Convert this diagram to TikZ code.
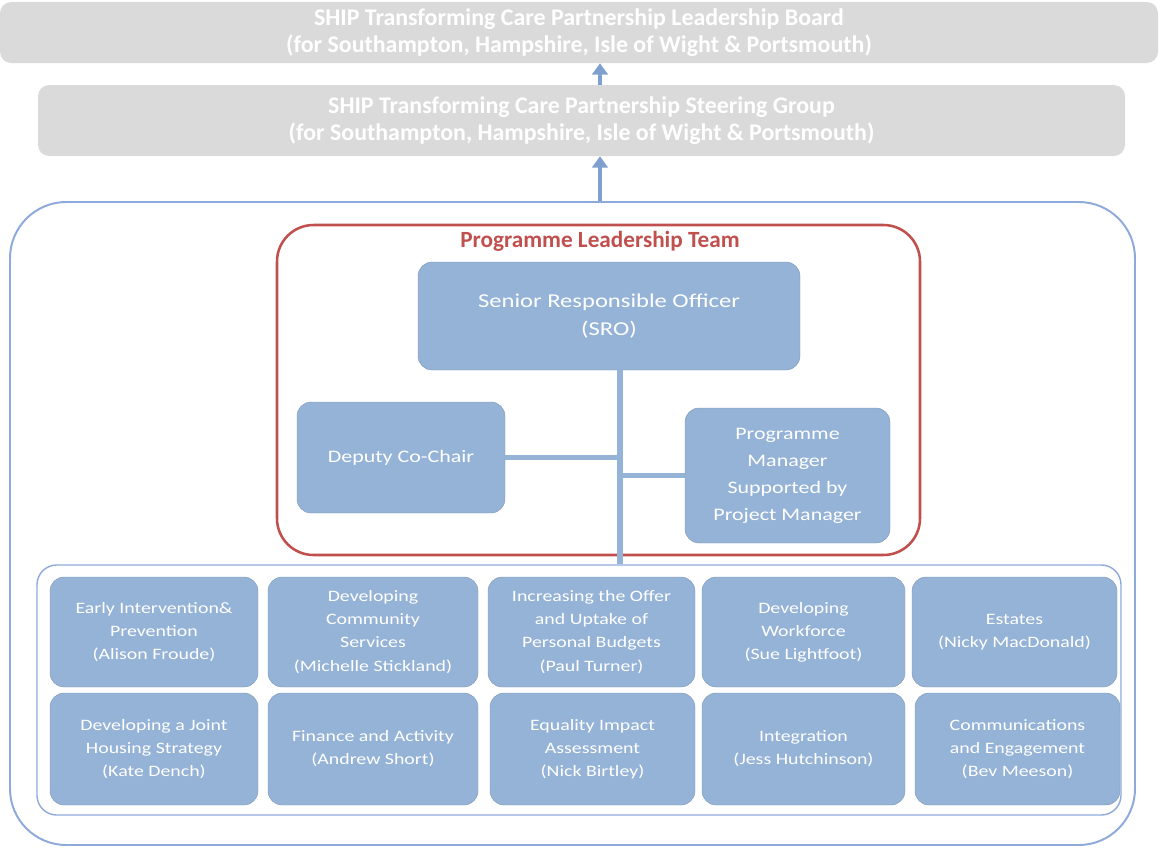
\documentclass[tikz,border=0pt]{standalone}
\usepackage{fontspec}
\setmainfont{Carlito}
\newfontfamily\widefont[FakeStretch=1.25]{Carlito}
\usetikzlibrary{arrows.meta}
\definecolor{boxblue}{HTML}{95B3D7}
\definecolor{edgeblue}{HTML}{8EAADB}
\definecolor{arrowblue}{HTML}{7F9FCF}
\definecolor{boardgray}{HTML}{DADADA}
\definecolor{teamred}{HTML}{C0504D}
% one drawing unit is one pixel of the 1160 x 850 sheet
\def\pxu{0.025cm}
\tikzset{
  size/.style 2 args={minimum width=#1*\pxu, minimum height=#2*\pxu},
  board/.style={fill=boardgray, draw=none, rounded corners=8pt, inner sep=0pt,
    align=center, text=white, font=\fontsize{17}{19.6}\selectfont\bfseries},
  role/.style={fill=boxblue, draw=boxblue!85!black, line width=0.3pt, rounded corners=10pt,
    inner sep=0pt, align=center, text=white, font=\widefont\fontsize{12.5}{19.2}\selectfont},
  team/.style={fill=boxblue, draw=boxblue!85!black, line width=0.3pt, rounded corners=10pt,
    inner sep=0pt, align=center, text=white, font=\widefont\fontsize{11.3}{16.4}\selectfont},
  link/.style={draw=boxblue, line width=3.6pt},
  upArrow/.style={draw=arrowblue, line width=3pt, -{Triangle[width=11pt,length=8pt]}}
}
\begin{document}
\begin{tikzpicture}[x=\pxu,y=-\pxu]
\useasboundingbox (0,0) rectangle (1160,850);
% governance boards
\node[board, size={1158}{61}] (board) at (579,32.5) {SHIP Transforming Care Partnership Leadership Board\\(for Southampton, Hampshire, Isle of Wight \& Portsmouth)};
\node[board, size={1087}{71}] (steer) at (581.5,120.5) {SHIP Transforming Care Partnership Steering Group\\(for Southampton, Hampshire, Isle of Wight \& Portsmouth)};
% programme frame
\node[draw=edgeblue, line width=1.4pt, rounded corners=40pt, inner sep=0pt, size={1125}{643}] (prog) at (572.5,523.5) {};
\coordinate (ax) at (600,0);
\draw[upArrow] (prog.north -| ax) -- (steer.south -| ax);
\draw[upArrow] (steer.north -| ax) -- (board.south -| ax);
% leadership team
\node[draw=teamred, line width=1.8pt, rounded corners=26pt, inner sep=0pt, size={643}{330}] (plt) at (598.5,390) {};
\node[text=teamred, font=\fontsize{16.5}{18}\selectfont\bfseries] (plttitle) at (600,241) {Programme Leadership Team};
\node[role, font=\widefont\fontsize{14}{20}\selectfont, size={382}{108}] (sro) at (609,316) {Senior Responsible Officer\\(SRO)};
\node[role, size={208}{111}] (dep) at (401,457.5) {Deputy Co-Chair};
\node[role, size={205}{135}] (pm) at (787.5,475.5) {Programme\\Manager\\Supported by\\Project Manager};
% workstreams
\node[draw=edgeblue, line width=1pt, rounded corners=14pt, inner sep=0pt, size={1084}{250}] (teams) at (579,690) {};
\node[team, size={208}{110}] (t1) at (154,632) {Early Intervention\&\\Prevention\\(Alison Froude)};
\node[team, size={210}{110}] (t2) at (373,632) {Developing\\Community\\Services\\(Michelle Stickland)};
\node[team, size={207}{110}] (t3) at (591.5,632) {Increasing the Offer\\and Uptake of\\Personal Budgets\\(Paul Turner)};
\node[team, size={203}{110}] (t4) at (803.5,632) {Developing\\Workforce\\(Sue Lightfoot)};
\node[team, size={205}{110}] (t5) at (1014.5,632) {Estates\\(Nicky MacDonald)};
\node[team, size={208}{112}] (t6) at (154,749) {Developing a Joint\\Housing Strategy\\(Kate Dench)};
\node[team, size={210}{112}] (t7) at (373,749) {Finance and Activity\\(Andrew Short)};
\node[team, size={205}{112}] (t8) at (592.5,749) {Equality Impact\\Assessment\\(Nick Birtley)};
\node[team, size={203}{112}] (t9) at (803.5,749) {Integration\\(Jess Hutchinson)};
\node[team, size={205}{112}] (t10) at (1017.5,749) {Communications\\and Engagement\\(Bev Meeson)};
% reporting lines
\coordinate (spine) at (620,0);
\draw[link] (sro.south -| spine) -- (teams.north -| spine);
\draw[link] (dep.east) -- (dep.east -| spine);
\draw[link] (pm.west) -- (pm.west -| spine);
\end{tikzpicture}
\end{document}
